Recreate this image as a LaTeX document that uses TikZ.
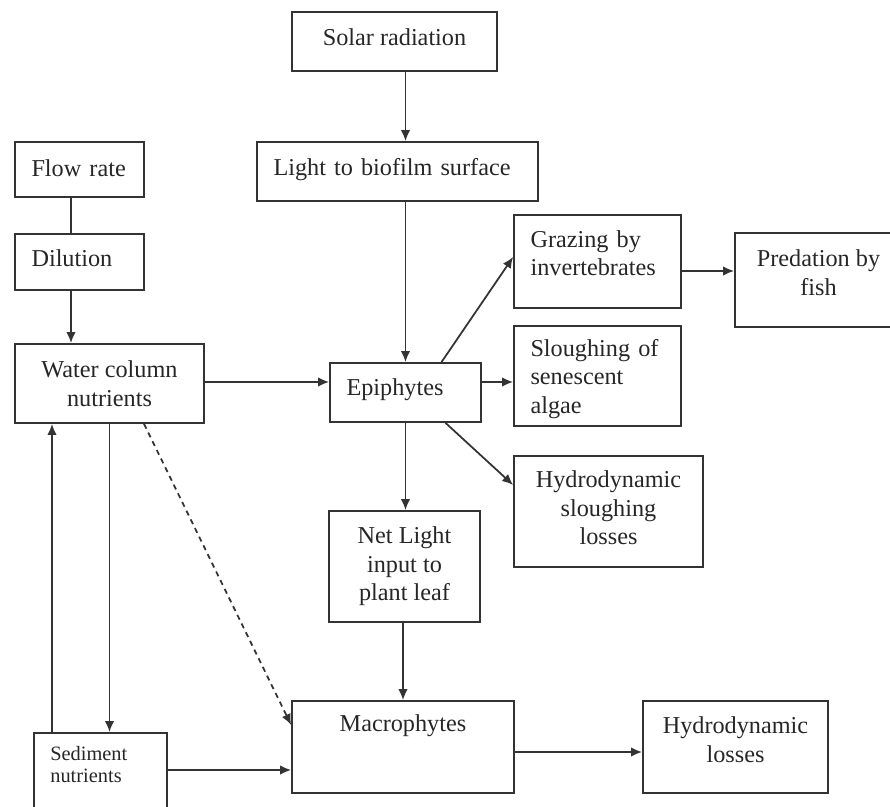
\documentclass[tikz,border=0pt]{standalone}
\usepackage{fontspec}
\setmainfont{Liberation Serif}
\usetikzlibrary{arrows.meta}

\begin{document}
\begin{tikzpicture}[x=0.02cm,y=-0.02cm,
    box/.style={draw=black!80,line width=1pt,text=black!85,inner sep=0pt,
        font=\fontsize{13.8}{16.2}\selectfont,align=center,text depth=0.16cm},
    lbox/.style={box,align=left,inner xsep=0.33cm},
    arr/.style={draw=black!80,line width=1pt,-{Latex[length=0.22cm,width=0.19cm]}}]

     \useasboundingbox (0,0) rectangle (890,807);

     % light path
     \node[box,minimum width=4.1cm,minimum height=1.18cm] (solar) at (394.5,41.5) {Solar radiation};
     \node[lbox,text width=4.96cm,minimum height=1.18cm,text depth=0.19cm] (light) at (397.5,171.5) {Light to biofilm surface};
     \node[lbox,text width=2.36cm,minimum height=1.18cm,text depth=0.2cm] (epi) at (405.5,392.5) {Epiphytes};
     \node[box,minimum width=3.02cm,minimum height=2.22cm,text depth=0.1cm] (netl) at (404.5,566.5) {Net Light\\input to\\plant leaf};
     \node[box,minimum width=4.44cm,minimum height=1.84cm,text depth=0.95cm] (macro) at (403,747) {Macrophytes};
     \node[box,minimum width=3.7cm,minimum height=1.84cm,text depth=0.3cm] (hloss) at (735.5,747) {Hydrodynamic\\losses};

     % nutrients
     \node[lbox,text width=1.92cm,minimum height=1.1cm,text depth=0.06cm] (flow) at (79.5,169.5) {Flow rate};
     \node[lbox,text width=1.92cm,minimum height=1.12cm,text depth=0.15cm] (dil) at (79.5,262) {Dilution};
     \node[box,minimum width=3.78cm,minimum height=1.58cm,text depth=0pt] (wcol) at (109.5,383.5) {Water column\\nutrients};
     \node[box,minimum width=2.66cm,minimum height=2cm,anchor=north west] (sed) at (33,732) {};
     \node[anchor=north west,inner sep=0pt,align=left,text=black!85,font=\fontsize{11.6}{12.5}\selectfont]
         (sedtxt) at ([xshift=0.34cm,yshift=-0.28cm]sed.north west) {Sediment\\nutrients};

     % losses of epiphytes
     \node[lbox,text width=2.68cm,minimum height=1.86cm,text depth=0.9cm] (graz) at (597.5,261.5) {Grazing by\\invertebrates};
     \node[box,minimum width=3.34cm,minimum height=1.88cm,text depth=0.3cm] (pred) at (818.5,280) {Predation by\\fish};
     \node[lbox,text width=2.68cm,minimum height=2cm,text depth=1.13cm] (slough) at (597.5,376) {Sloughing of\\senescent\\algae};
     \node[box,minimum width=3.78cm,minimum height=2.22cm,text depth=0.15cm] (hsl) at (608.5,511.5) {Hydrodynamic\\sloughing\\losses};

     \coordinate (fdx) at (71,0);
     \coordinate (upx) at (52,0);
     \coordinate (midy) at (0,382);
     \coordinate (gpy) at (0,271);
     \coordinate (sedy) at (0,770);

     \draw[arr] (solar.south -| epi.north) -- (light.north -| epi.north);
     \draw[arr] (light.south -| epi.north) -- (epi.north);
     \draw[arr] (epi.south) -- (epi.south |- netl.north);
     \draw[arr] (netl.south -| macro.north) -- (macro.north);
     \draw[arr] ([yshift=-0.1cm]macro.east) -- ([yshift=-0.1cm]hloss.west);

     \draw[draw=black!80,line width=1pt] (flow.south -| fdx) -- (dil.north -| fdx);
     \draw[arr] (dil.south -| fdx) -- (wcol.north -| fdx);
     \draw[arr] (wcol.east |- midy) -- (epi.west |- midy);
     \draw[arr] (wcol.south) -- (wcol.south |- sed.north);
     \draw[arr] (sed.north -| upx) -- (wcol.south -| upx);
     \draw[arr] (sed.east |- sedy) -- (macro.west |- sedy);
     \draw[arr,dash pattern=on 3pt off 2.5pt] ([xshift=0.69cm]wcol.south) -- ([yshift=0.44cm]macro.west);

     \draw[arr] ([xshift=0.72cm]epi.north) -- ([yshift=0.09cm]graz.west);
     \draw[arr] (graz.east |- gpy) -- (pred.west |- gpy);
     \draw[arr] (epi.east |- midy) -- (slough.west |- midy);
     \draw[arr] ([xshift=0.8cm]epi.south) -- ([yshift=0.53cm]hsl.west);
\end{tikzpicture}
\end{document}
